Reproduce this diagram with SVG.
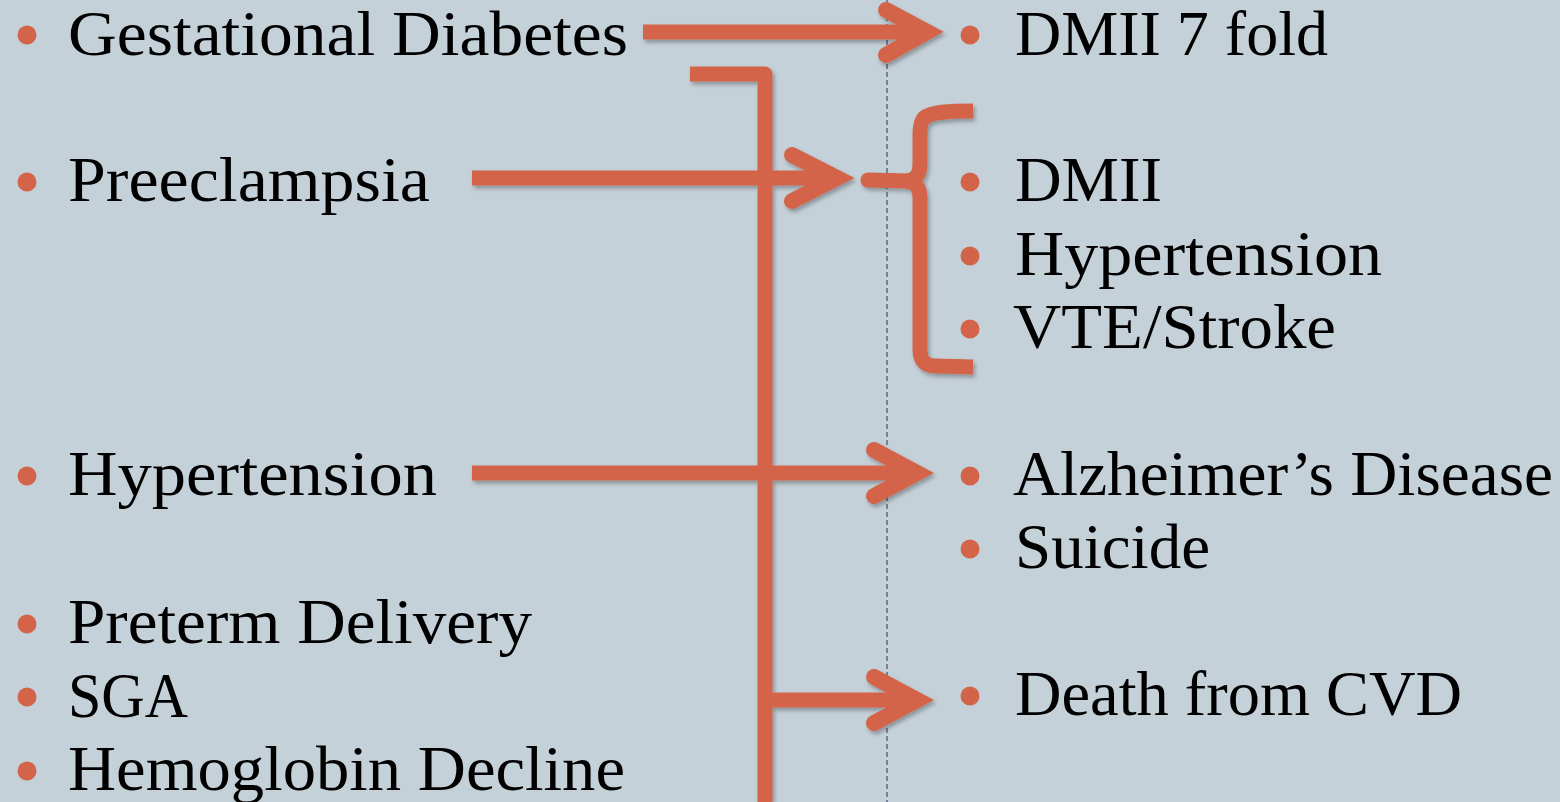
<svg xmlns="http://www.w3.org/2000/svg" width="1560" height="802" viewBox="0 0 1560 802">
<style>
.t{font-family:"Liberation Serif","DejaVu Serif",serif;font-size:64px;fill:#000}
.b{fill:#D3644A}
.ln{fill:none;stroke:#D3644A;stroke-width:15}
.hd{fill:none;stroke:#D3644A;stroke-width:16;stroke-linecap:round;stroke-linejoin:miter}
</style>
<defs>
<filter id="sh" x="-10%" y="-10%" width="120%" height="120%">
<feDropShadow dx="2" dy="3" stdDeviation="2" flood-color="#000" flood-opacity="0.3"/>
</filter>
</defs>
<rect width="1560" height="802" fill="#C5D1D8"/>
<line x1="887" y1="0" x2="887" y2="802" stroke="#5E6884" stroke-width="1.5" stroke-dasharray="5 3"/>
<g id="connectors" filter="url(#sh)">
<path class="ln" d="M690,74 H765 V802" stroke-linejoin="round" stroke-width="13"/>
<line class="ln" x1="643" y1="32" x2="924" y2="32"/>
<polyline class="hd" points="886,10 927,32 886,55"/>
<line class="ln" x1="472" y1="178" x2="834" y2="178"/>
<polyline class="hd" points="792,155 837,178 792,201"/>
<line class="ln" x1="472" y1="473" x2="914" y2="473"/>
<polyline class="hd" points="874,450 917,473 874,496"/>
<line class="ln" x1="765" y1="700" x2="914" y2="700"/>
<polyline class="hd" points="874,677 917,700 874,723"/>
<path class="ln" stroke-width="13" d="M973,111 C950,111 930,112 924,118 Q920,122 920,135 V164 Q920,180 906,181"/>
<path class="ln" stroke-width="13" d="M906,181 Q920,182 920,198 V350 Q920,366 936,366 L973,367"/>
<path class="ln" stroke-width="13" d="M868,180 L908,181" stroke-linecap="round"/>
</g>
<g id="n-gestational"><circle class="b" cx="27" cy="35" r="9.5"/><text class="t" x="68" y="55" textLength="560" lengthAdjust="spacingAndGlyphs">Gestational Diabetes</text></g>
<g id="n-preeclampsia"><circle class="b" cx="27" cy="182" r="9.5"/><text class="t" x="68" y="201" textLength="362" lengthAdjust="spacingAndGlyphs">Preeclampsia</text></g>
<g id="n-hypertension-l"><circle class="b" cx="27" cy="476" r="9.5"/><text class="t" x="68" y="495" textLength="369" lengthAdjust="spacingAndGlyphs">Hypertension</text></g>
<g id="n-preterm"><circle class="b" cx="27" cy="624" r="9.5"/><text class="t" x="68" y="643" textLength="464" lengthAdjust="spacingAndGlyphs">Preterm Delivery</text></g>
<g id="n-sga"><circle class="b" cx="27" cy="697" r="9.5"/><text class="t" x="68" y="717" textLength="120" lengthAdjust="spacingAndGlyphs">SGA</text></g>
<g id="n-hemoglobin"><circle class="b" cx="27" cy="771" r="9.5"/><text class="t" x="68" y="790" textLength="557" lengthAdjust="spacingAndGlyphs">Hemoglobin Decline</text></g>
<g id="n-dmii7"><circle class="b" cx="970" cy="35" r="9.5"/><text class="t" x="1015" y="55" textLength="313" lengthAdjust="spacingAndGlyphs">DMII 7 fold</text></g>
<g id="n-dmii"><circle class="b" cx="970" cy="182" r="9.5"/><text class="t" x="1015" y="201" textLength="147" lengthAdjust="spacingAndGlyphs">DMII</text></g>
<g id="n-hypertension-r"><circle class="b" cx="970" cy="256" r="9.5"/><text class="t" x="1015" y="275" textLength="367" lengthAdjust="spacingAndGlyphs">Hypertension</text></g>
<g id="n-vte"><circle class="b" cx="970" cy="329" r="9.5"/><text class="t" x="1013" y="348" textLength="323" lengthAdjust="spacingAndGlyphs">VTE/Stroke</text></g>
<g id="n-alzheimer"><circle class="b" cx="970" cy="476" r="9.5"/><text class="t" x="1013" y="495" textLength="540" lengthAdjust="spacingAndGlyphs">Alzheimer’s Disease</text></g>
<g id="n-suicide"><circle class="b" cx="970" cy="549" r="9.5"/><text class="t" x="1015" y="568" textLength="195" lengthAdjust="spacingAndGlyphs">Suicide</text></g>
<g id="n-death"><circle class="b" cx="970" cy="696" r="9.5"/><text class="t" x="1015" y="715" textLength="447" lengthAdjust="spacingAndGlyphs">Death from CVD</text></g>
</svg>
